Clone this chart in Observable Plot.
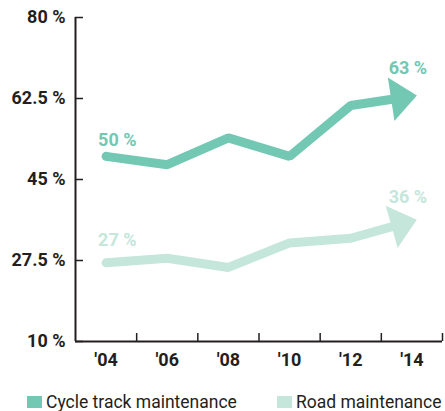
<!DOCTYPE html>
<html><head><meta charset="utf-8">
<script src="https://cdn.jsdelivr.net/npm/d3@7"></script>
<script src="https://cdn.jsdelivr.net/npm/@observablehq/plot@0.6"></script>
<style>
body{margin:0;background:#fff;}
#legend{display:flex;align-items:center;font-family:Roboto,sans-serif;font-size:17.5px;color:#231f20;padding-left:27px;margin-top:17px;line-height:20px;height:20px;white-space:nowrap}
.item{display:flex;align-items:center}
.item + .item{margin-left:40px}
.sw{display:inline-block;width:15px;height:12px;margin-right:4px}
g[aria-label$="tick label"] text{font-weight:700}
</style></head><body>
<div id="chart"></div>
<div id="legend"></div>
<script>
const years = [2004, 2006, 2008, 2010, 2012, 2014];
const xTickLabels = ["'04", "'06", "'08", "'10", "'12", "'14"];
const xBoundaries = [2005, 2007, 2009, 2011, 2013, 2015];
const cycleTrack = [50, 48.2, 54, 50, 61, 63];
const roadMaint = [27, 28, 26, 31.3, 32.3, 36];
const seriesNames = ["Cycle track maintenance", "Road maintenance"];
const seriesColors = ["#72c8b3", "#c5e6db"];
const yTicks = [10, 27.5, 45, 62.5, 80];

const W = 445, H = 375, mL = 75, mR = 3, mT = 17, mB = 34;
const ink = "#231f20";
const font = "Roboto, sans-serif";

const sx = Plot.scale({x: {domain: [2003, 2015], range: [mL, W - mR]}});
const sy = Plot.scale({y: {domain: [10, 80], range: [H - mB, mT]}});

const arrowHead = {draw(ctx) { ctx.moveTo(5, 0); ctx.lineTo(-21, -22); ctx.lineTo(-21, 22); ctx.closePath(); }};

function seriesMarks(values, color, startDy, endDy) {
  const rows = years.map((year, i) => ({year, value: values[i]}));
  const n = rows.length;
  const a = sx.apply(rows[n - 2].year), b = sx.apply(rows[n - 1].year);
  const ya = sy.apply(rows[n - 2].value), yb = sy.apply(rows[n - 1].value);
  const angle = Math.atan2(yb - ya, b - a) * 180 / Math.PI;
  return [
    Plot.line(rows, {x: "year", y: "value", stroke: color, strokeWidth: 9, strokeLinecap: "butt", strokeLinejoin: "miter"}),
    Plot.dot([rows[0]], {x: "year", y: "value", r: 4.5, fill: color, stroke: "none"}),
    Plot.dot([rows[n - 1]], {x: "year", y: "value", symbol: arrowHead, fill: color, stroke: "none", rotate: angle, r: 10}),
    Plot.text([rows[0]], {x: "year", y: "value", text: d => `${d.value} %`, fill: color, fontSize: 18, fontWeight: 700, textAnchor: "start", dx: -8, dy: startDy}),
    Plot.text([rows[n - 1]], {x: "year", y: "value", text: d => `${d.value} %`, fill: color, fontSize: 18, fontWeight: 700, textAnchor: "middle", dx: -4, dy: endDy})
  ];
}

const chart = Plot.plot({
  width: W, height: H,
  marginLeft: mL, marginRight: mR, marginTop: mT, marginBottom: mB,
  style: {fontFamily: font, color: ink, background: "#fff"},
  x: {domain: [2003, 2015]},
  y: {domain: [10, 80]},
  marks: [
    Plot.ruleX([2003], {stroke: ink, strokeWidth: 2}),
    Plot.ruleY([10], {stroke: ink, strokeWidth: 2}),
    Plot.axisY(yTicks, {tickSize: -8, tickFormat: () => "", stroke: ink, strokeWidth: 1.5, label: null}),
    Plot.axisY(yTicks, {tickSize: 0, tickPadding: 10, tickFormat: d => `${d} %`, fontSize: 18, fontWeight: 700, fill: ink, label: null}),
    Plot.axisX(xBoundaries, {tickSize: -8, tickFormat: () => "", stroke: ink, strokeWidth: 1.5, label: null}),
    Plot.axisX(years, {tickSize: 0, tickPadding: 12, tickFormat: d => xTickLabels[years.indexOf(d)], fontSize: 18, fontWeight: 700, fill: ink, label: null}),
    ...seriesMarks(roadMaint, seriesColors[1], -23, -24),
    ...seriesMarks(cycleTrack, seriesColors[0], -16, -28)
  ]
});
document.getElementById("chart").appendChild(chart);

const legend = document.getElementById("legend");
seriesNames.forEach((name, i) => {
  const item = document.createElement("span");
  item.className = "item";
  const sw = document.createElement("span");
  sw.className = "sw";
  sw.style.background = seriesColors[i];
  item.appendChild(sw);
  item.appendChild(document.createTextNode(name));
  legend.appendChild(item);
});
</script>
</body></html>
